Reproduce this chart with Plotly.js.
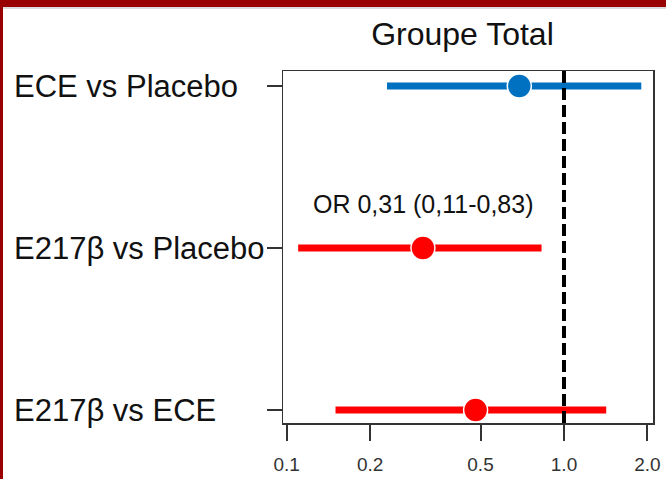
<!DOCTYPE html>
<html>
<head>
<meta charset="utf-8">
<script src="https://cdn.plot.ly/plotly-3.0.1.min.js"></script>
<style>
  html, body { margin: 0; padding: 0; width: 666px; height: 479px; overflow: hidden; background: #990000; }
  #strip { position: absolute; left: 3px; top: 7px; width: 663px; height: 2px; background: #dcdcdc; }
  #chart { position: absolute; left: 3px; top: 9px; width: 663px; height: 470px; background: #fff; }
</style>
</head>
<body>
<div id="strip"></div>
<div id="chart"></div>
<script>
// Data
const comparisons = ["ECE vs Placebo", "E217β vs Placebo", "E217β vs ECE"];
const positions = [3, 2, 1];
const orValues = [0.69, 0.31, 0.48];
const ciLower = [0.23, 0.11, 0.15];
const ciUpper = [1.90, 0.83, 1.42];
const colors = ["#0070C0", "#FF0000", "#FF0000"];
const tickVals = [0.1, 0.2, 0.5, 1.0, 2.0];
const tickLabels = ["0.1", "0.2", "0.5", "1.0", "2.0"];
const chartTitle = "Groupe Total";
const orNote = "OR 0,31 (0,11-0,83)";
const orNoteIndex = 1;

const textColor = "#111111";
const fontFam = "Liberation Sans, Arial, sans-serif";

const traces = comparisons.map((name, i) => ({
  type: "scatter",
  mode: "markers",
  x: [orValues[i]],
  y: [positions[i]],
  name: name,
  marker: { size: 24, color: colors[i], line: { color: "#ffffff", width: 1.5 } },
  error_x: {
    type: "data", symmetric: false,
    array: [ciUpper[i] - orValues[i]],
    arrayminus: [orValues[i] - ciLower[i]],
    color: colors[i], thickness: 7, width: 0
  },
  hoverinfo: "skip"
}));

const annotations = comparisons.map((name, i) => ({
  text: name, xref: "paper", yref: "y",
  x: -0.7324, y: positions[i], xanchor: "left", yanchor: "middle",
  showarrow: false, font: { family: fontFam, size: 31, color: textColor }
}));
annotations.push({
  text: orNote, xref: "x", yref: "y",
  x: Math.log10(orValues[orNoteIndex]), y: positions[orNoteIndex] + 0.27,
  xanchor: "center", yanchor: "middle", showarrow: false,
  font: { family: fontFam, size: 25, color: textColor }
});

const layout = {
  width: 663, height: 470,
  margin: { l: 280, r: 13, t: 62, b: 56 },
  paper_bgcolor: "#ffffff", plot_bgcolor: "#ffffff",
  showlegend: false,
  title: {
    text: chartTitle, xref: "paper", x: 0.485, xanchor: "center",
    yref: "container", y: 0.947, yanchor: "middle",
    font: { family: fontFam, size: 32, color: textColor }
  },
  xaxis: {
    type: "log", range: [-1.0133, 0.321],
    tickvals: tickVals, ticktext: tickLabels,
    ticks: "outside", ticklen: 16, tickwidth: 2, tickcolor: "#333",
    ticklabelstandoff: 8,
    showline: true, linecolor: "#333", linewidth: 1.5, mirror: true,
    showgrid: false, zeroline: false,
    tickfont: { family: fontFam, size: 19, color: "#333" }
  },
  yaxis: {
    range: [0.92, 3.093],
    tickvals: positions, showticklabels: false,
    ticks: "outside", ticklen: 15, tickwidth: 1.5, tickcolor: "#333",
    showline: true, linecolor: "#333", linewidth: 1.5, mirror: true,
    showgrid: false, zeroline: false
  },
  shapes: [{
    type: "line", xref: "x", yref: "paper", x0: 1, x1: 1, y0: 0, y1: 1,
    line: { color: "#000000", width: 4, dash: "12px,5px" }, layer: "above"
  }],
  annotations: annotations
};

Plotly.newPlot("chart", traces, layout, { displayModeBar: false, staticPlot: true });
</script>
</body>
</html>
